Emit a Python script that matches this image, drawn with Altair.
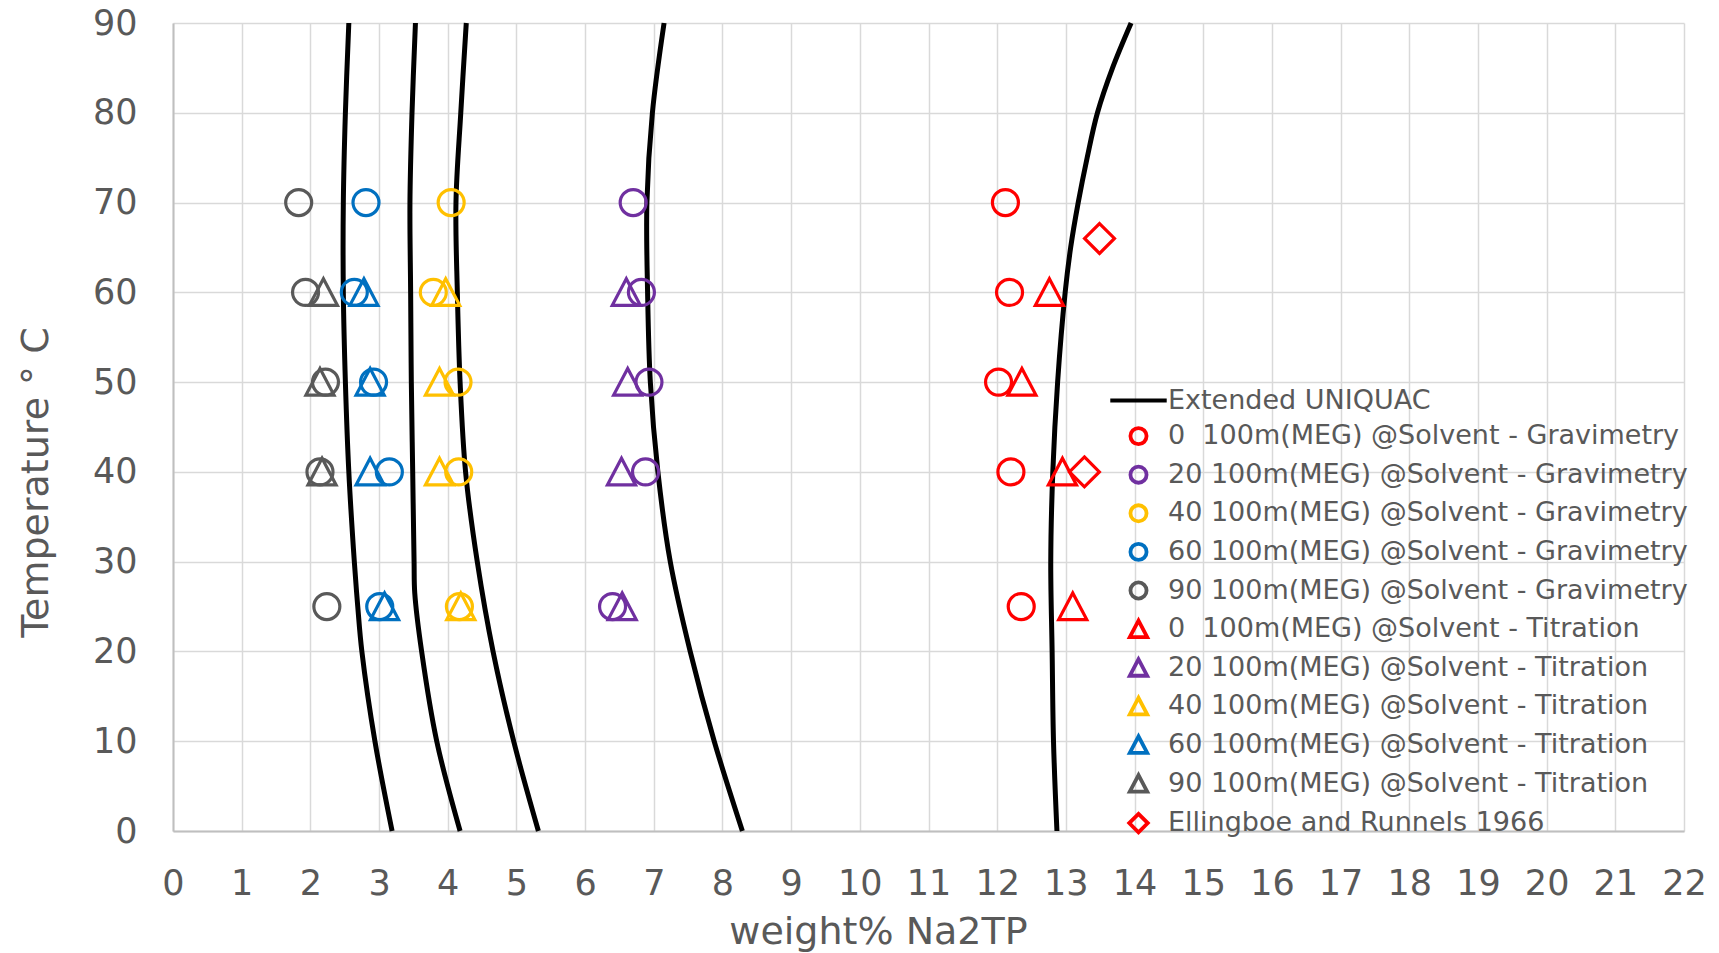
import altair as alt
import pandas as pd

# ---------------- data ----------------
grav_T = [70, 60, 50, 40, 25]
tit_T = [60, 50, 40, 25]
tit90_T = [60, 50, 40]

meg0_grav = [12.12, 12.18, 12.02, 12.20, 12.35]
meg20_grav = [6.70, 6.82, 6.93, 6.88, 6.40]
meg40_grav = [4.05, 3.79, 4.15, 4.16, 4.17]
meg60_grav = [2.81, 2.64, 2.92, 3.15, 3.01]
meg90_grav = [1.83, 1.93, 2.22, 2.14, 2.24]

meg0_tit = [12.76, 12.36, 12.95, 13.10]
meg20_tit = [6.60, 6.62, 6.53, 6.54]
meg40_tit = [3.97, 3.88, 3.88, 4.19]
meg60_tit = [2.78, 2.87, 2.87, 3.08]
meg90_tit = [2.19, 2.14, 2.17]

ellingboe_T = [66, 40]
ellingboe_x = [13.49, 13.27]

# Extended UNIQUAC curves (temperature, weight%)
curve1_T = [90, 80, 70, 60, 50, 40, 30, 25, 20, 10, 0]
curve1_x = [2.56, 2.51, 2.48, 2.48, 2.51, 2.56, 2.64, 2.69, 2.75, 2.94, 3.19]
curve2_T = [90, 80, 70, 60, 50, 40, 30, 26.5, 20, 10, 0]
curve2_x = [3.53, 3.48, 3.45, 3.46, 3.47, 3.49, 3.51, 3.52, 3.62, 3.84, 4.18]
curve3_T = [90, 80, 70, 60, 50, 40, 30, 20, 10, 0]
curve3_x = [4.27, 4.19, 4.12, 4.14, 4.18, 4.26, 4.43, 4.66, 4.96, 5.32]
curve4_T = [90, 80, 70, 60, 50, 40, 30, 20, 10, 0]
curve4_x = [7.15, 6.98, 6.90, 6.91, 6.95, 7.06, 7.24, 7.53, 7.88, 8.29]
curve5_T = [90, 85, 80, 75, 70, 65, 60, 50, 40, 30, 20, 10, 0]
curve5_x = [13.95, 13.68, 13.46, 13.31, 13.18, 13.07, 12.99, 12.88, 12.81, 12.78, 12.80, 12.82, 12.87]

series_names = [
    "Extended UNIQUAC",
    "0\u00a0 100m(MEG) @Solvent - Gravimetry",
    "20 100m(MEG) @Solvent - Gravimetry",
    "40 100m(MEG) @Solvent - Gravimetry",
    "60 100m(MEG) @Solvent - Gravimetry",
    "90 100m(MEG) @Solvent - Gravimetry",
    "0\u00a0 100m(MEG) @Solvent - Titration",
    "20 100m(MEG) @Solvent - Titration",
    "40 100m(MEG) @Solvent - Titration",
    "60 100m(MEG) @Solvent - Titration",
    "90 100m(MEG) @Solvent - Titration",
    "Ellingboe and Runnels 1966",
]
series_colors = ["#000000", "#FF0000", "#7030A0", "#FFC000", "#0070C0", "#595959",
                 "#FF0000", "#7030A0", "#FFC000", "#0070C0", "#595959", "#FF0000"]

LINE = "M-3.5,0L3.5,0"
CIRCLE = "circle"
TRI = "M0,-1.05L-1.08,1.0L1.08,1.0Z"
DIAM = "M0,-1.15L1.15,0L0,1.15L-1.15,0Z"
series_shapes = [LINE, CIRCLE, CIRCLE, CIRCLE, CIRCLE, CIRCLE, TRI, TRI, TRI, TRI, TRI, DIAM]

# ---------------- tables ----------------
pts = []
def add(name, xs, ts):
    for x, t in zip(xs, ts):
        pts.append({"series": name, "x": x, "T": t})

add(series_names[1], meg0_grav, grav_T)
add(series_names[2], meg20_grav, grav_T)
add(series_names[3], meg40_grav, grav_T)
add(series_names[4], meg60_grav, grav_T)
add(series_names[5], meg90_grav, grav_T)
add(series_names[6], meg0_tit, tit_T)
add(series_names[7], meg20_tit, tit_T)
add(series_names[8], meg40_tit, tit_T)
add(series_names[9], meg60_tit, tit_T)
add(series_names[10], meg90_tit, tit90_T)
add(series_names[11], ellingboe_x, ellingboe_T)
pts_df = pd.DataFrame(pts)

curves = []
for i, (ts, xs) in enumerate([(curve1_T, curve1_x), (curve2_T, curve2_x), (curve3_T, curve3_x),
                              (curve4_T, curve4_x), (curve5_T, curve5_x)]):
    for t, x in zip(ts, xs):
        curves.append({"curve": f"c{i+1}", "x": x, "T": t})
curve_df = pd.DataFrame(curves)

x_scale = alt.Scale(domain=[0, 22], nice=False)
y_scale = alt.Scale(domain=[0, 90], nice=False)

x_axis = alt.Axis(title="weight% Na2TP", values=list(range(0, 23)),
                  labelOverlap=False, labelFlush=False,
                  labelPadding=35, titleX=705, titleY=101, titleBaseline="middle",
                  titleAlign="center")
y_axis = alt.Axis(title="Temperature ° C", values=list(range(0, 91, 10)),
                  labelOverlap=False, labelFlush=False,
                  labelPadding=36, titleAngle=-90, titleX=-137, titleY=459,
                  titleBaseline="middle", titleAlign="center")

lines = alt.Chart(curve_df).mark_line(color="black", strokeWidth=5,
                                      interpolate="catmull-rom").encode(
    x=alt.X("x:Q", scale=x_scale, axis=x_axis),
    y=alt.Y("T:Q", scale=y_scale, axis=y_axis),
    detail="curve:N",
    order="T:Q",
)

legend = alt.Legend(title=None, orient="none", legendX=952, legendY=364,
                    labelFontSize=27, labelColor="#595959", labelFont="DejaVu Sans",
                    symbolSize=260, symbolStrokeWidth=3.8, rowPadding=5.6,
                    labelOffset=16, padding=0, labelLimit=900)

points = alt.Chart(pts_df).mark_point(filled=False, strokeWidth=3.2, size=676,
                                      opacity=1).encode(
    x=alt.X("x:Q", scale=x_scale, axis=x_axis),
    y=alt.Y("T:Q", scale=y_scale, axis=y_axis),
    color=alt.Color("series:N", scale=alt.Scale(domain=series_names, range=series_colors),
                    legend=legend, title=None),
    shape=alt.Shape("series:N", scale=alt.Scale(domain=series_names, range=series_shapes),
                    legend=legend, title=None),
)

chart = alt.layer(lines, points).properties(
    width=1511, height=808,
    background="white",
    autosize=alt.AutoSizeParams(type="none"),
    padding={"left": 173, "top": 23, "right": 35, "bottom": 122},
).configure_axis(
    grid=True, gridColor="#D9D9D9", gridWidth=1.5,
    domainColor="#BFBFBF", domainWidth=2, ticks=False,
    labelFont="DejaVu Sans", labelFontSize=35, labelColor="#595959",
    titleFont="DejaVu Sans", titleFontSize=38, titleColor="#595959",
    titleFontWeight="normal",
).configure_view(strokeWidth=0)

chart.save("out.html", embed_options={"renderer": "svg", "actions": False})
